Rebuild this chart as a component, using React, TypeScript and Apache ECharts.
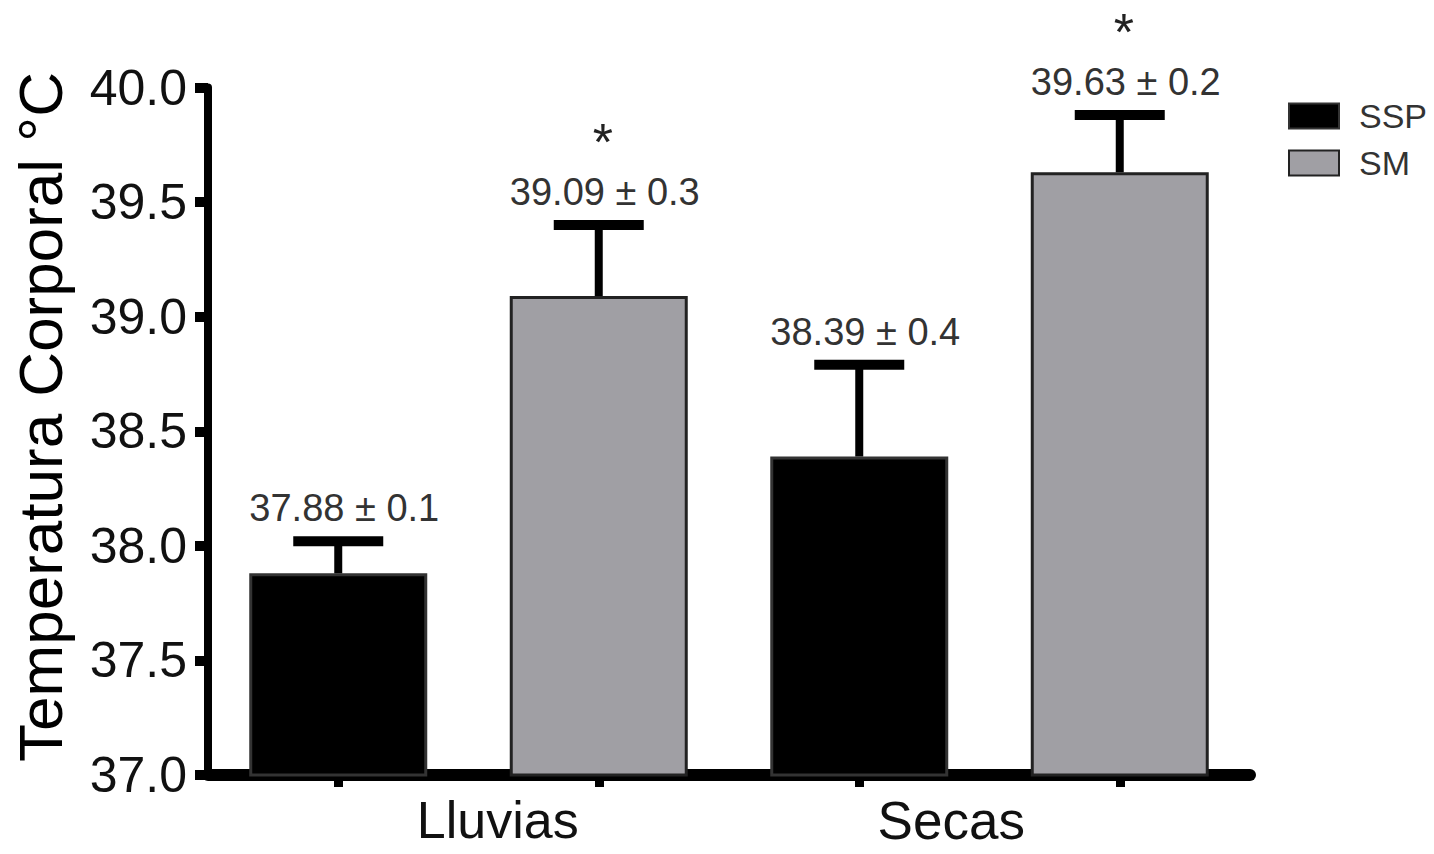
import React, { useEffect, useRef } from "react";
import * as echarts from "echarts";

// ---- data ----
const groups = ["Lluvias", "Secas"];
const seriesNames = ["SSP", "SM"];
const sspMean = [37.88, 38.39];
const smMean = [39.09, 39.63];
const sspErr = [0.14, 0.4];
const smErr = [0.31, 0.25];
const sspSd = ["0.1", "0.4"];
const smSd = ["0.3", "0.2"];
const sspSig = [false, false];
const smSig = [true, true];
const yMin = 37.0;
const yMax = 40.0;
const yInterval = 0.5;
const yTitle = "Temperatura Corporal °C";

const FONT = "'Liberation Sans', Arial, Helvetica, sans-serif";

export default function App() {
  const ref = useRef<HTMLDivElement>(null);

  useEffect(() => {
    if (!ref.current) return;
    const chart = echarts.init(ref.current, null, { renderer: "svg" });

    // build slots: each group gets SSP then SM
    const slots: string[] = [];
    const sspData: any[] = [];
    const smData: any[] = [];
    const errData: any[] = [];
    const errLabels: string[] = [];
    const errSig: boolean[] = [];
    groups.forEach((g, i) => {
      slots.push(g + " " + seriesNames[0]);
      sspData.push(sspMean[i]);
      smData.push("-");
      errData.push([slots.length - 1, sspMean[i], sspMean[i] + sspErr[i]]);
      errLabels.push(sspMean[i].toFixed(2) + " ± " + sspSd[i]);
      errSig.push(sspSig[i]);

      slots.push(g + " " + seriesNames[1]);
      sspData.push("-");
      smData.push(smMean[i]);
      errData.push([slots.length - 1, smMean[i], smMean[i] + smErr[i]]);
      errLabels.push(smMean[i].toFixed(2) + " ± " + smSd[i]);
      errSig.push(smSig[i]);
    });

    const option: any = {
      animation: false,
      backgroundColor: "#ffffff",
      textStyle: { fontFamily: FONT },
      grid: { left: 208, top: 87.5, width: 1042, height: 687.5, containLabel: false },
      legend: {
        data: seriesNames,
        orient: "vertical",
        left: 1288,
        top: 99,
        padding: 0,
        itemWidth: 50,
        itemHeight: 25,
        itemGap: 13,
        icon: "rect",
        textStyle: { fontSize: 34, color: "#333", fontFamily: FONT, padding: [0, 0, 0, 15] },
      },
      xAxis: {
        type: "category",
        data: slots,
        axisLine: { show: true, lineStyle: { color: "#000", width: 12 } },
        axisTick: { show: true, alignWithLabel: true, length: 12, lineStyle: { color: "#000", width: 9 } },
        axisLabel: {
          interval: 0,
          margin: 21,
          color: "#111",
          fontSize: 52,
          lineHeight: 48,
          fontFamily: FONT,
          formatter: (_v: string, idx: number) => {
            if (idx === 1) return "{l|" + groups[0] + "}";
            if (idx === 2) return "{r|" + groups[1] + "}";
            return "";
          },
          rich: {
            l: { fontSize: 52, lineHeight: 48, fontFamily: FONT, color: "#111", padding: [0, 202, 0, 0] },
            r: { fontSize: 53, lineHeight: 48, fontFamily: FONT, color: "#111", padding: [0, 0, 0, 184] },
          },
        },
        splitLine: { show: false },
      },
      yAxis: {
        type: "value",
        min: yMin,
        max: yMax,
        interval: yInterval,
        axisLine: { show: true, lineStyle: { color: "#000", width: 8 } },
        axisTick: { show: true, length: 13, lineStyle: { color: "#000", width: 10 } },
        axisLabel: {
          margin: 21,
          fontSize: 50,
          color: "#111",
          fontFamily: FONT,
          padding: [0, 0, 10, 0],
          formatter: (v: number) => v.toFixed(1),
        },
        splitLine: { show: false },
      },
      graphic: [
        {
          type: "text",
          x: 40,
          y: 417,
          rotation: Math.PI / 2,
          style: {
            text: yTitle,
            fontSize: 62,
            fontFamily: FONT,
            fill: "#000",
            align: "center",
            verticalAlign: "middle",
          },
        },
      ],
      series: [
        {
          name: seriesNames[0],
          type: "bar",
          data: sspData,
          barWidth: 178,
          barGap: "-100%",
          itemStyle: { color: "#000000", borderColor: "#333", borderWidth: 3 },
          z: 2,
        },
        {
          name: seriesNames[1],
          type: "bar",
          data: smData,
          barWidth: 178,
          barGap: "-100%",
          itemStyle: { color: "#a09fa4", borderColor: "#222", borderWidth: 3 },
          z: 2,
        },
        {
          type: "custom",
          name: "err",
          data: errData,
          z: 3,
          silent: true,
          encode: { x: 0, y: [1, 2] },
          renderItem: (params: any, api: any) => {
            const idx = api.value(0);
            const mean = api.value(1);
            const top = api.value(2);
            const p0 = api.coord([idx, mean]);
            const p1 = api.coord([idx, top]);
            const half = 45;
            const children: any[] = [
              {
                type: "line",
                shape: { x1: p0[0], y1: p0[1], x2: p1[0], y2: p1[1] },
                style: { stroke: "#000", lineWidth: 8 },
              },
              {
                type: "line",
                shape: { x1: p1[0] - half, y1: p1[1], x2: p1[0] + half, y2: p1[1] },
                style: { stroke: "#000", lineWidth: 10 },
              },
              {
                type: "text",
                x: p1[0] + 6,
                y: p1[1] - 33,
                style: {
                  text: errLabels[params.dataIndex],
                  fontSize: 38,
                  fontFamily: FONT,
                  fill: "#333",
                  align: "center",
                  verticalAlign: "middle",
                },
              },
            ];
            if (errSig[params.dataIndex]) {
              children.push({
                type: "text",
                x: p1[0] + 4,
                y: p1[1] - 83,
                style: {
                  text: "*",
                  fontSize: 52,
                  lineHeight: 52,
                  fontFamily: FONT,
                  fill: "#222",
                  align: "center",
                  verticalAlign: "middle",
                },
              });
            }
            return { type: "group", children };
          },
        },
      ],
    };

    chart.setOption(option);
    return () => chart.dispose();
  }, []);

  return (
    <div
      ref={ref}
      style={{ position: "absolute", left: 0, top: 0, width: 1434, height: 854, background: "#fff" }}
    />
  );
}
